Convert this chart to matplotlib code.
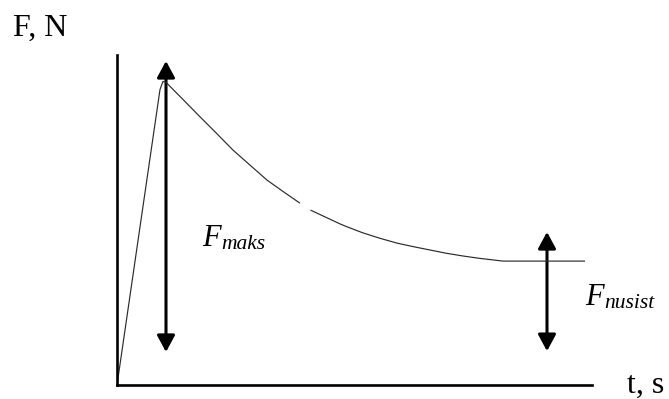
import numpy as np
import matplotlib
matplotlib.use("Agg")
from matplotlib import pyplot as plt
from matplotlib.patches import FancyArrowPatch

plt.rcParams['font.family'] = 'Liberation Serif'

# force curve: fast rise to the peak, then relaxation to a plateau (gap left as nan)
t = [0, 0.86, 0.92, 0.98, 1.33, 1.66, 1.99, 2.32, 2.66, 3.0, 3.33, 3.66, np.nan,
     3.87, 4.46, 4.59, 4.92, 5.26, 5.6, 5.93, 6.26, 6.59, 6.92, 7.26, 7.72, 8.26, 9.36]
F = [0, 98.5, 101.2, 100.9, 95.0, 89.4, 83.9, 78.3, 73.3, 68.3, 64.4, 60.6, np.nan,
     58.3, 53.7, 52.8, 50.7, 48.9, 47.3, 46.1, 45.0, 43.9, 43.0, 42.2, 41.3, 41.3, 41.3]

# double arrows marking the maximum and the residual force
arrow_t = [0.98, 8.6]
arrow_lo = [11.0, 11.3]
arrow_hi = [108.0, 51.0]
arrow_subs = ['maks', 'nusist']
label_pos = [(202, 246), (585, 305)]

W, H = 669, 399
fig = plt.figure(figsize=(W / 100, H / 100), dpi=100)
ax = fig.add_axes([117 / W, 14 / H, 475 / W, 330 / H])
ax.set_xlim(0, 9.5)
ax.set_ylim(0, 110)

ax.plot(t, F, color='#2b2b2b', lw=0.85, solid_capstyle='butt')

for x, lo, hi in zip(arrow_t, arrow_lo, arrow_hi):
    ax.add_patch(FancyArrowPatch((x, lo), (x, hi),
                                 arrowstyle='<|-|>,head_length=10,head_width=5.4',
                                 mutation_scale=1, lw=2.2, color='black',
                                 shrinkA=0, shrinkB=0, clip_on=False))

for s in ['top', 'right']:
    ax.spines[s].set_visible(False)
for s in ['left', 'bottom']:
    ax.spines[s].set_linewidth(1.9)
ax.set_xticks([])
ax.set_yticks([])
ax.patch.set_alpha(0)

# F with an italic subscript, written as two pieces of text
for sub, (px, py) in zip(arrow_subs, label_pos):
    fig.text(px / W, (H - py) / H, 'F', fontsize=22, style='italic',
             ha='left', va='baseline')
    fig.text((px + 19) / W, (H - py - 3) / H, sub, fontsize=15.5, style='italic',
             ha='left', va='baseline')

fig.text(13 / W, (H - 36) / H, 'F, N', fontsize=23, ha='left', va='baseline')
fig.text(627 / W, (H - 393) / H, 't, s', fontsize=23, ha='left', va='baseline')

fig.savefig('out.png', dpi=100)
